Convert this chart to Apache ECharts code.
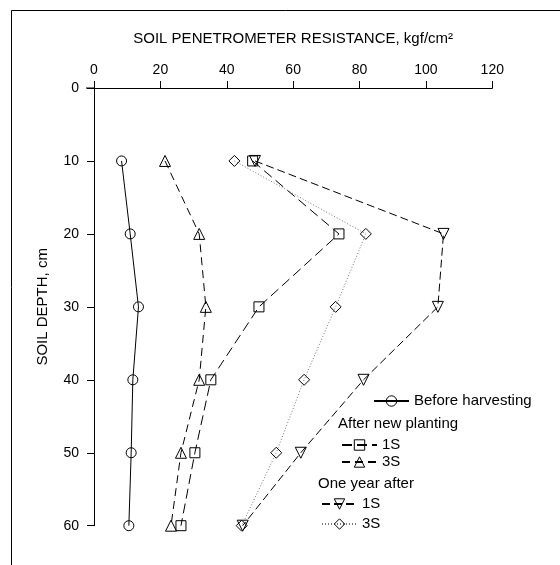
<!DOCTYPE html>
<html><head><meta charset="utf-8">
<script src="https://cdn.jsdelivr.net/npm/echarts@6/dist/echarts.min.js"></script>
<style>html,body{margin:0;padding:0;background:#fff}#c{width:560px;height:565px}</style>
</head><body><div id="c"></div>
<script>
const depths = [10, 20, 30, 40, 50, 60];
const beforeHarvesting = [8.3, 10.9, 13.4, 11.7, 11.2, 10.5];
const afterPlanting1S = [47.8, 73.8, 49.7, 35.2, 30.4, 26.2];
const afterPlanting3S = [21.4, 31.7, 33.7, 31.7, 26.2, 23.2];
const oneYear1S = [48.5, 105.3, 103.6, 81.2, 62.3, 44.8];
const oneYear3S = [42.3, 81.9, 72.8, 63.3, 54.9, 44.5];
const xTicks = [0, 20, 40, 60, 80, 100, 120];
const yTicks = [0, 10, 20, 30, 40, 50, 60];

const FONT = 'Liberation Sans, Arial, sans-serif';
const pairs = v => v.map((x, i) => [x, depths[i]]);
function mk(name, data, symbol, lineType, color, rotate, size) {
  return {
    name, type: 'line', data: pairs(data), symbol, symbolSize: size || 10,
    symbolRotate: rotate || 0,
    lineStyle: { color: color || '#000', width: 1, type: lineType },
    itemStyle: { color: 'rgba(0,0,0,0)', borderColor: '#000', borderWidth: 1 },
    emphasis: { disabled: true }, animation: false
  };
}
const chart = echarts.init(document.getElementById('c'), null, { renderer: 'canvas' });
const shortName = n => n.endsWith('1S') ? '1S' : (n.endsWith('3S') ? '3S' : n);
const legendBase = {
  orient: 'vertical', itemWidth: 35, itemHeight: 13, itemGap: 2, padding: 0,
  textStyle: { fontFamily: FONT, fontSize: 15, color: '#000' },
  itemStyle: { color: 'rgba(0,0,0,0)', borderColor: '#000', borderWidth: 1 },
  formatter: shortName, selectedMode: false
};
chart.setOption({
  animation: false,
  grid: { left: 94, top: 88, right: 67.7, bottom: 39.3, containLabel: false },
  xAxis: {
    type: 'value', position: 'top', min: 0, max: 120, interval: 20,
    name: 'SOIL PENETROMETER RESISTANCE, kgf/cm\u00B2', nameLocation: 'middle', nameGap: 42,
    nameTextStyle: { fontFamily: FONT, fontSize: 15, color: '#000' },
    axisLine: { show: true, lineStyle: { color: '#000', width: 1 } },
    axisTick: { show: true, inside: false, length: 7, lineStyle: { color: '#000' } },
    axisLabel: { fontFamily: FONT, fontSize: 14, color: '#000', margin: 11,
      formatter: v => xTicks.includes(v) ? String(v) : '' },
    splitLine: { show: false }
  },
  yAxis: {
    type: 'value', inverse: true, min: 0, max: 60, interval: 10,
    name: 'SOIL DEPTH, cm', nameLocation: 'middle', nameGap: 44,
    nameTextStyle: { fontFamily: FONT, fontSize: 15, color: '#000' },
    axisLine: { show: true, lineStyle: { color: '#000', width: 1 } },
    axisTick: { show: true, length: 7, lineStyle: { color: '#000' } },
    axisLabel: { fontFamily: FONT, fontSize: 14, color: '#000', margin: 15,
      formatter: v => yTicks.includes(v) ? String(v) : '' },
    splitLine: { show: false }
  },
  legend: [
    Object.assign({}, legendBase, { left: 373, top: 393.5, data: ['Before harvesting'] }),
    Object.assign({}, legendBase, { left: 341, top: 437.5, data: ['After new planting 1S', 'After new planting 3S'] }),
    Object.assign({}, legendBase, { left: 321, top: 496.5, itemGap: 5, data: ['One year after 1S', 'One year after 3S'] })
  ],
  graphic: [
    { type: 'line', shape: { x1: 11.5, y1: 10.5, x2: 560, y2: 10.5 }, style: { stroke: '#000', lineWidth: 1 } },
    { type: 'line', shape: { x1: 11.5, y1: 10.5, x2: 11.5, y2: 565 }, style: { stroke: '#000', lineWidth: 1 } },
    { type: 'line', shape: { x1: 86, y1: 88, x2: 94, y2: 88 }, style: { stroke: '#000', lineWidth: 1 } },
    { type: 'text', left: 338, top: 416, style: { text: 'After new planting', font: '15px ' + FONT, fill: '#000' } },
    { type: 'text', left: 318, top: 476, style: { text: 'One year after', font: '15px ' + FONT, fill: '#000' } }
  ],
  series: [
    mk('Before harvesting', beforeHarvesting, 'circle', 'solid'),
    mk('After new planting 1S', afterPlanting1S, 'rect', [10, 5], null, 0, 10),
    mk('After new planting 3S', afterPlanting3S, 'triangle', [8, 5], null, 0, 11),
    mk('One year after 1S', oneYear1S, 'triangle', [8, 4], null, 180, 11),
    mk('One year after 3S', oneYear3S, 'diamond', [1, 2], '#777', 0, 11)
  ]
});
</script></body></html>
